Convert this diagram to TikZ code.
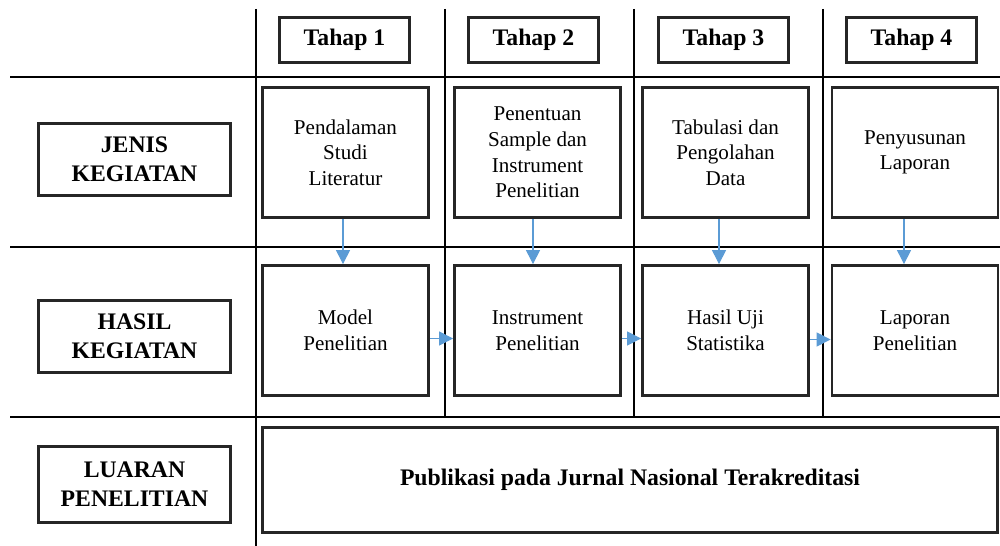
\documentclass[tikz,border=0pt]{standalone}
\usepackage{fontspec}
\setmainfont{Liberation Serif}
\usetikzlibrary{arrows.meta, positioning, calc}
\definecolor{flowblue}{RGB}{91,155,213}

\begin{document}
\begin{tikzpicture}[x=0.02cm, y=-0.02cm]
    \tikzstyle{grid}=[line width=1.1pt, draw=black]
    \tikzstyle{box}=[rectangle, draw=black!85, line width=1.6pt, align=center, inner sep=0pt]
    \tikzstyle{stage}=[box, minimum width=2.6cm, minimum height=0.9cm, font=\fontsize{13.5}{16.5}\selectfont\bfseries]
    \tikzstyle{row label}=[box, minimum width=3.84cm, minimum height=1.44cm, font=\fontsize{13.5}{16.5}\selectfont\bfseries]
    \tikzstyle{activity}=[box, minimum width=3.32cm, minimum height=2.6cm, font=\fontsize{12}{14.6}\selectfont]
    \tikzstyle{flow}=[-{Triangle[length=8pt,width=8pt]}, draw=flowblue, line width=0.6pt]

    \useasboundingbox (0,0) rectangle (1000,546);

    % table lines
    \draw[grid] (10,77) -- (1000,77);
    \draw[grid] (10,247) -- (1000,247);
    \draw[grid] (10,417) -- (1000,417);
    \draw[grid] (256,9) -- (256,546);
    \draw[grid] (445,9) -- (445,417);
    \draw[grid] (634,9) -- (634,417);
    \draw[grid] (823,9) -- (823,417);

    \node[stage] (T-1) at (344.5,40) {Tahap 1};
    \node[stage] (T-2) at (533.5,40) {Tahap 2};
    \node[stage] (T-3) at (723.5,40) {Tahap 3};
    \node[stage] (T-4) at (911.5,40) {Tahap 4};

    \node[row label] (L-1) at (134.5,159.5) {JENIS\\KEGIATAN};
    \node[row label] (L-2) at (134.5,336.5) {HASIL\\KEGIATAN};
    \node[row label, minimum height=1.52cm] (L-3) at (134.5,484.5) {LUARAN\\PENELITIAN};

    \node[activity] (J-1) at (345.5,152.5) {Pendalaman\\Studi\\Literatur};
    \node[activity] (J-2) at (537.5,152.5) {Penentuan\\Sample dan\\Instrument\\Penelitian};
    \node[activity] (J-3) at (725.5,152.5) {Tabulasi dan\\Pengolahan\\Data};
    \node[activity] (J-4) at (915,152.5) {Penyusunan\\Laporan};

    \node[activity] (H-1) at (345.5,330.5) {Model\\Penelitian};
    \node[activity] (H-2) at (537.5,330.5) {Instrument\\Penelitian};
    \node[activity] (H-3) at (725.5,330.5) {Hasil Uji\\Statistika};
    \node[activity] (H-4) at (915,330.5) {Laporan\\Penelitian};

    \node[box, minimum width=14.7cm, minimum height=2.1cm, font=\fontsize{13.5}{16.5}\selectfont\bfseries] (P) at (630,480) {Publikasi pada Jurnal Nasional Terakreditasi};

    \draw[flow] ($(J-1.south)+(-2.5,0)$) -- ($(H-1.north)+(-2.5,0)$);
    \draw[flow] ($(J-2.south)+(-4.5,0)$) -- ($(H-2.north)+(-4.5,0)$);
    \draw[flow] ($(J-3.south)+(-6.5,0)$) -- ($(H-3.north)+(-6.5,0)$);
    \draw[flow] ($(J-4.south)+(-11,0)$) -- ($(H-4.north)+(-11,0)$);

    \draw[flow] ($(H-1.east)+(0,8)$) -- ($(H-2.west)+(0,8)$);
    \draw[flow] ($(H-2.east)+(0,8)$) -- ($(H-3.west)+(0,8)$);
    \draw[flow] ($(H-3.east)+(0,9)$) -- ($(H-4.west)+(0,9)$);
\end{tikzpicture}
\end{document}
